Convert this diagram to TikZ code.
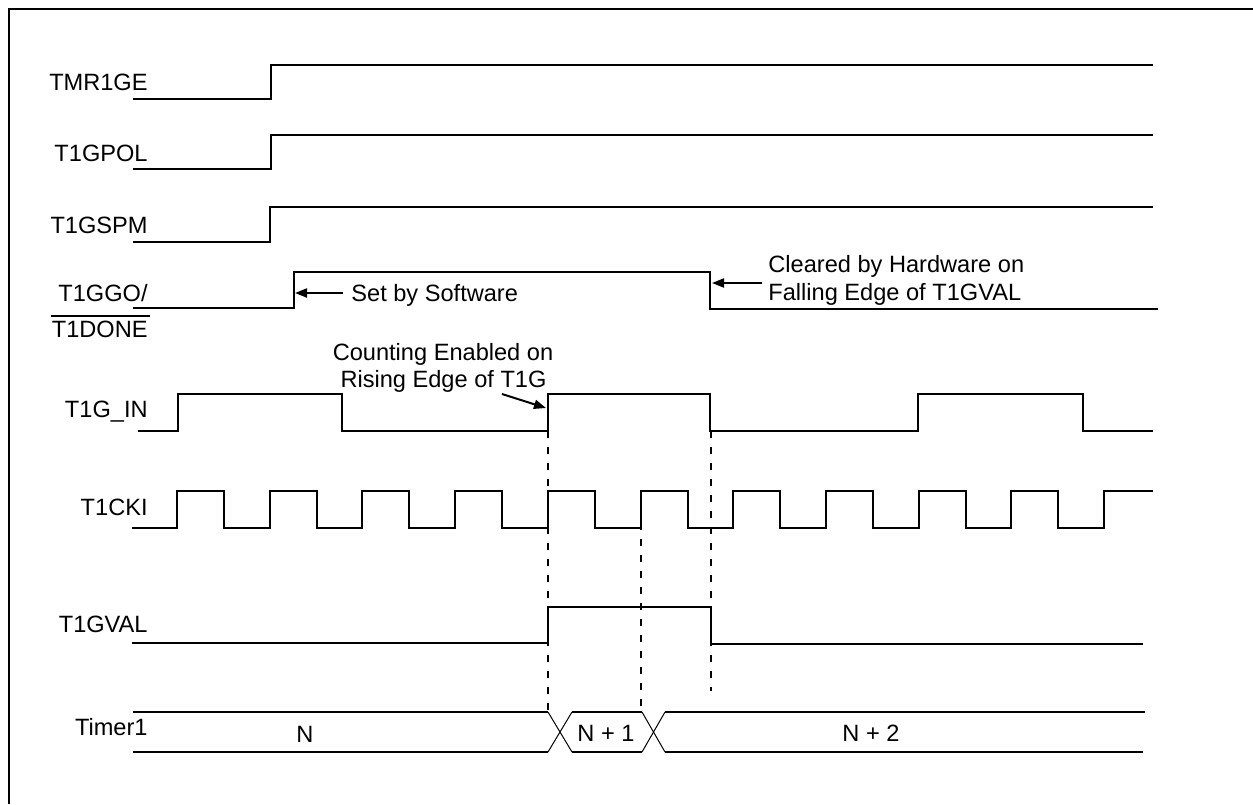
\documentclass[tikz,border=0pt]{standalone}
\usepackage{fontspec}
\setmainfont{Liberation Sans}
\usetikzlibrary{arrows.meta}
\begin{document}
\begin{tikzpicture}[x=0.5pt,y=-0.5pt,
  sig/.style={line width=1pt, line join=miter},
  lbl/.style={inner sep=0pt, font=\fontsize{11.8}{13.5}\selectfont, anchor=base east},
  txt/.style={inner sep=0pt, font=\fontsize{11.8}{13.5}\selectfont},
  arr/.style={line width=1pt, -{Triangle[length=6pt,width=4.5pt]}},
  guide/.style={line width=1pt, dash pattern=on 3.5pt off 4.5pt},
  cross/.style={line width=0.5pt}]
\useasboundingbox (0,0) rectangle (1253,804);
% frame (left and top edges visible)
\draw[line width=1.2pt] (9,804) -- (9,9) -- (1253,9);

% signal labels
\node[lbl] (tmr1ge) at (148,90.5) {TMR1GE};
\node[lbl] (t1gpol) at (148,161.5) {T1GPOL};
\node[lbl] (t1gspm) at (148,233) {T1GSPM};
\node[lbl] (t1ggo) at (148,301) {T1GGO/};
\node[lbl] (t1done) at (148,337) {T1DONE};
\draw[line width=1pt] ([yshift=2pt]t1done.north west) -- ([yshift=2pt,xshift=1pt]t1done.north east);
\node[lbl] (t1gin) at (148,417) {T1G\_IN};
\node[lbl] (t1cki) at (148,515) {T1CKI};
\node[lbl] (t1gval) at (148,632) {T1GVAL};
\node[lbl] (timer1) at (148,735) {Timer1};

% waveforms
\draw[sig] (133,99) -- (271,99) -- (271,65) -- (1153,65);
\draw[sig] (133,169) -- (271,169) -- (271,135) -- (1153,135);
\draw[sig] (133,242) -- (270,242) -- (270,207) -- (1153,207);
\draw[sig] (133,308) -- (294,308) -- (294,272) -- (710,272) -- (710,309) -- (1158,309);
\draw[sig] (138,431) -- (178,431) -- (178,394) -- (342,394) -- (342,431)
  -- (548,431) -- (548,394) -- (710,394) -- (710,431) -- (918,431)
  -- (918,394) -- (1083,394) -- (1083,431) -- (1153,431);
\draw[sig] (132,528) \foreach \k in {0,...,9} {
   -- ({177+92.7*\k},528) -- ({177+92.7*\k},491)
   -- ({224+92.7*\k},491) -- ({224+92.7*\k},528) }
   -- (1104,528) -- (1104,491) -- (1153,491);
\draw[sig] (132,643) -- (548,643) -- (548,607) -- (711,607) -- (711,644) -- (1143,644);

% Timer1 bus
\draw[sig] (133,712) -- (548,712);
\draw[sig] (133,752) -- (548,752);
\draw[cross] (548,712) -- (572,752);
\draw[cross] (548,752) -- (572,712);
\draw[sig] (572,712) -- (642,712);
\draw[sig] (572,752) -- (642,752);
\draw[cross] (642,712) -- (665,752);
\draw[cross] (642,752) -- (665,712);
\draw[sig] (665,712) -- (1145,712);
\draw[sig] (665,752) -- (1143,752);
\node[txt, anchor=base] (vN) at (305,742) {N};
\node[txt, anchor=base] (vN1) at (606,741) {N + 1};
\node[txt, anchor=base] (vN2) at (871,741) {N + 2};

% dashed guides
\draw[guide] (548,431) -- (548,712);
\draw[guide] (641,491) -- (641,712);
\draw[guide] (711,431) -- (711,691);

% annotations
\node[txt, anchor=base west] (setsw) at (351,301) {Set by Software};
\coordinate (setTail) at (343,293);
\coordinate (setTip) at (295,293);
\draw[arr] (setTail) -- (setTip);

\node[txt, anchor=base] (cnt1) at (443,360) {Counting Enabled on};
\node[txt, anchor=base] (cnt2) at (443.5,387) {Rising Edge of T1G};
\coordinate (cntTail) at (502,394);
\coordinate (cntTip) at (546,408);
\draw[arr] (cntTail) -- (cntTip);

\node[txt, anchor=base west] (clr1) at (768,272) {Cleared by Hardware on};
\node[txt, anchor=base west] (clr2) at (768,300) {Falling Edge of T1GVAL};
\coordinate (clrTail) at (762,283);
\coordinate (clrTip) at (712,283);
\draw[arr] (clrTail) -- (clrTip);
\end{tikzpicture}
\end{document}
